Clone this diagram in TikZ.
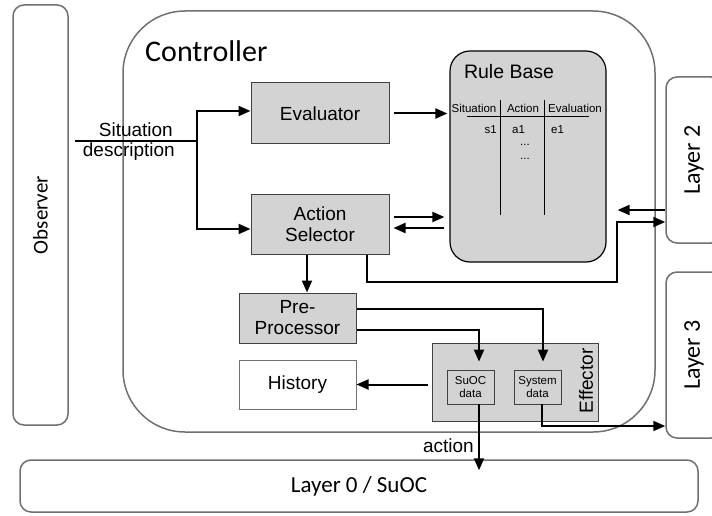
\documentclass[tikz,border=0pt]{standalone}
\usepackage{fontspec}
\setmainfont{Liberation Sans}
\newfontfamily\calfont{Carlito}
\usetikzlibrary{arrows.meta}
\definecolor{edgegray}{RGB}{112,112,112}
\definecolor{blockgray}{RGB}{211,211,211}
\definecolor{blockedge}{RGB}{64,64,64}

\begin{document}
\begin{tikzpicture}[x=1pt, y=-1pt,
        layer/.style={draw=edgegray, line width=1.5pt, fill=white, rounded corners=11pt, font=\calfont\fontsize{23}{26}\selectfont},
        block/.style={draw=blockedge, line width=1pt, fill=blockgray, align=center, font=\fontsize{19}{21}\selectfont},
        datbox/.style={draw=blockedge, line width=0.8pt, fill=blockgray, align=center, font=\fontsize{11.5}{12.5}\selectfont, minimum width=47pt, minimum height=34pt, inner sep=0pt},
        cell/.style={font=\fontsize{11.5}{13}\selectfont, inner sep=0pt},
        arr/.style={-{Triangle[length=12pt,width=10pt]}, line width=2pt},
        wire/.style={line width=2pt}]

        \useasboundingbox (0,0) rectangle (712,516);
        \clip (0,0) rectangle (712,516);

        % outer frames
        \node[layer, minimum width=55pt, minimum height=420pt, font=\calfont\fontsize{21}{24}\selectfont] (obs) at (40.5,215) {\rotatebox{90}{Observer}};
        \node[layer, rounded corners=62pt, minimum width=532pt, minimum height=421pt] (ctrl) at (389,221.5) {};
        \node[anchor=base west, font=\calfont\fontsize{30}{32}\selectfont, inner sep=0pt] (ctrltitle) at (145,62) {Controller};
        \node[layer, minimum width=56pt, minimum height=166pt, font=\calfont\fontsize{24}{26}\selectfont] (lay2) at (694,160) {\rotatebox{90}{Layer 2}};
        \node[layer, minimum width=56pt, minimum height=166pt, font=\calfont\fontsize{24}{26}\selectfont] (lay3) at (694,355) {\rotatebox{90}{Layer 3}};
        \node[layer, minimum width=678pt, minimum height=52pt] (lay0) at (359,486) {Layer 0 / SuOC};

        % controller parts
        \node[block, minimum width=138pt, minimum height=61pt] (eval) at (320,113.5) {Evaluator};
        \node[block, minimum width=138pt, minimum height=60pt] (asel) at (320,224) {Action\\Selector};
        \node[block, draw=black, line width=1.2pt, rounded corners=20pt, minimum width=156pt, minimum height=211pt] (rb) at (528,156.5) {};
        \node[font=\fontsize{19.5}{21}\selectfont] (rbtitle) at (509,72) {Rule Base};
        \node[block, minimum width=117pt, minimum height=50pt] (pre) at (297.5,318) {Pre-\\Processor};
        \node[block, fill=white, draw=edgegray, minimum width=117pt, minimum height=49pt] (hist) at (297.5,384.5) {History};
        \node[block, minimum width=166pt, minimum height=78pt] (eff) at (515,382) {};
        \node[font=\fontsize{19}{21}\selectfont, inner sep=0pt] (efflabel) at (586,381) {\rotatebox{90}{Effector}};
        \node[datbox] (suoc) at (470.5,387) {SuOC\\data};
        \node[datbox] (sysd) at (537.5,387) {System\\data};

        % rule table
        \draw[line width=0.9pt] (500,100) -- (500,215) (544,100) -- (544,215) (467,116) -- (589,116);
        \node[cell] (hsit) at (474,108) {Situation};
        \node[cell] (hact) at (523,108) {Action};
        \node[cell] (heva) at (575,108) {Evaluation};
        \node[cell, anchor=east] (s1) at (497,130) {s1};
        \node[cell] (a1) at (518.5,130) {a1};
        \node[cell, anchor=west] (e1) at (551,130) {e1};
        \node[cell, anchor=base] (dotsa) at (525,146) {...};
        \node[cell, anchor=base] (dotsb) at (525,159) {...};

        % input from observer
        \coordinate (sitin) at (75,141);
        \coordinate (split) at (197,141);
        \draw[wire] (sitin) -- (split);
        \draw[arr] (split) |- ([yshift=2.5pt]eval.west);
        \draw[arr] (split) |- ([yshift=-5pt]asel.west);
        \node[anchor=south east, inner sep=4pt, font=\fontsize{19}{21}\selectfont] (sitlabel) at (177,141) {Situation};
        \node[anchor=north east, inner sep=2pt, font=\fontsize{19}{21}\selectfont] (desclabel) at (177,141) {description};

        \draw[arr, shorten <=4pt, shorten >=2pt] (eval.east) -- (eval.east -| rb.west);
        \draw[arr, shorten <=4pt, shorten >=5pt] ([yshift=7pt]asel.east) -- ([yshift=7pt]asel.east -| rb.west);
        \draw[arr, shorten <=5pt, shorten >=4pt] ([yshift=-4pt]asel.east -| rb.west) -- ([yshift=-4pt]asel.east);
        \draw[arr] ([xshift=-13pt]asel.south) -- ([xshift=-13pt]asel.south |- pre.north);

        % links to layer 2
        \coordinate (bendA) at (617,282);
        \draw[arr] ([xshift=47pt]asel.south) |- (bendA) |- ([yshift=-62pt]lay2.west);
        \draw[arr, shorten >=11pt] ([yshift=-50pt]lay2.west) -- ([yshift=-50pt]lay2.west -| rb.east);

        % effector
        \draw[arr, shorten >=8pt] ([yshift=-12pt]pre.east) -| ([xshift=8.5pt]suoc.north);
        \draw[arr, shorten >=8pt] ([yshift=9pt]pre.east) -| ([xshift=5.5pt]sysd.north);
        \draw[arr, shorten <=4pt] (eff.west |- hist.east) -- (hist.east);
        \draw[arr, shorten >=-11pt] ([xshift=8.5pt]suoc.south) -- ([xshift=8.5pt]suoc.south |- lay0.north);
        \node[anchor=east, inner sep=2pt, font=\fontsize{19}{21}\selectfont] (actlabel) at (476,446) {action};
        \draw[arr] ([xshift=4.5pt]sysd.south) |- ([yshift=-71pt]lay3.west);
    \end{tikzpicture}
\end{document}
